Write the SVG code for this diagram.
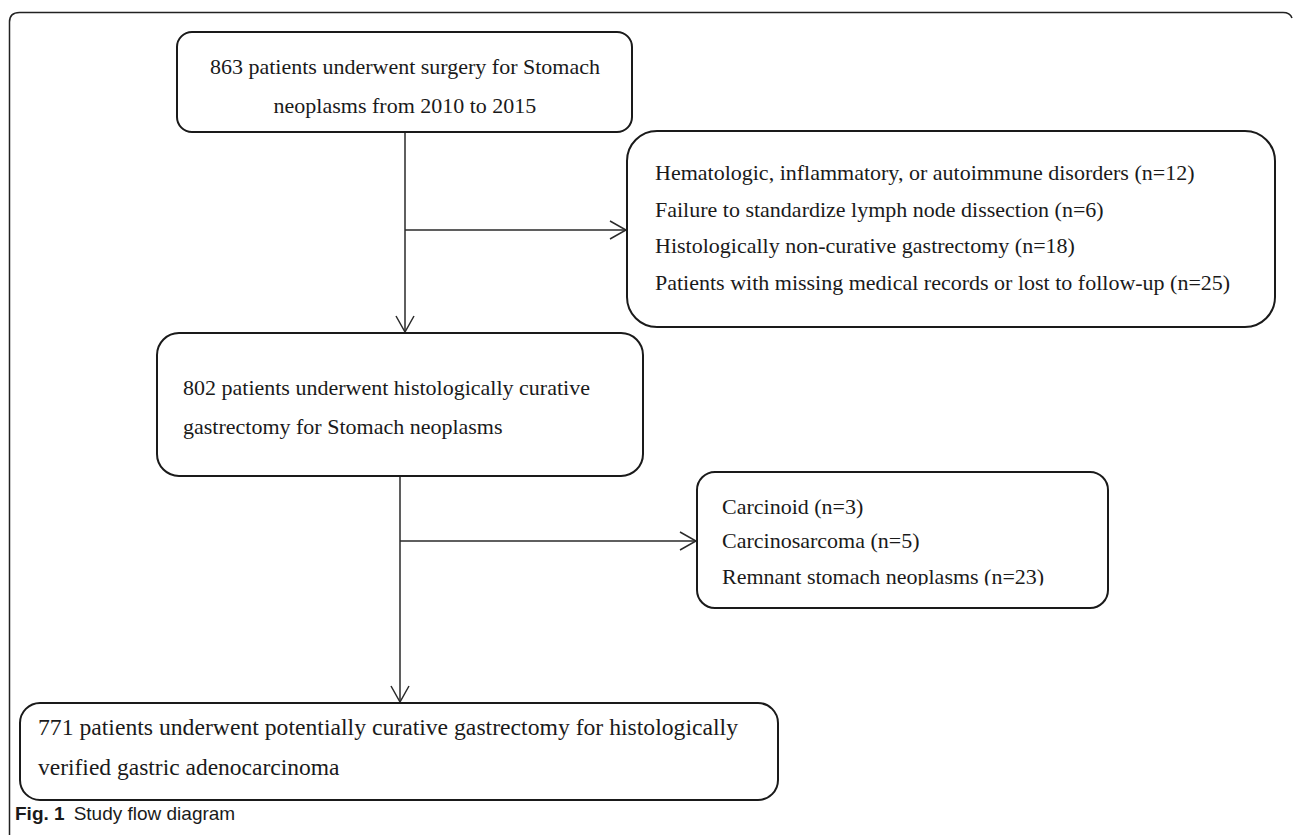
<svg xmlns="http://www.w3.org/2000/svg" width="1293" height="835" viewBox="0 0 1293 835">
  <style>
    .box { fill: #ffffff; stroke: #1a1a1a; stroke-width: 2; }
    .t { font-family: "Liberation Serif", "Times New Roman", serif; font-size: 22px; fill: #1a1a1a; }
    .te { font-family: "Liberation Serif", "Times New Roman", serif; font-size: 23.5px; fill: #1a1a1a; }
    .conn { fill: none; stroke: #2a2a2a; stroke-width: 1.5; }
    .cap { font-family: "Liberation Sans", Arial, sans-serif; font-size: 19px; fill: #1a1a1a; }
  </style>
  <defs>
    <marker id="arr" viewBox="0 0 20 20" refX="17" refY="10" markerWidth="20" markerHeight="20" markerUnits="userSpaceOnUse" orient="auto">
      <path d="M1,1 L17,10 L1,19" fill="none" stroke="#2a2a2a" stroke-width="1.5"/>
    </marker>
    <clipPath id="clipD">
      <rect x="690" y="470" width="420" height="115.5"/>
    </clipPath>
  </defs>
  <rect width="1293" height="835" fill="#ffffff"/>
  <g id="frame">
    <path d="M9.5,835 L9.5,22 Q9.5,12.5 19.5,12.5 L1283,12.5 Q1290,12.5 1292,18" fill="none" stroke="#222" stroke-width="1.5"/>
  </g>
  <g id="connectors">
    <path class="conn" d="M405,132 L405,332" marker-end="url(#arr)"/>
    <path class="conn" d="M405,230 L626,230" marker-end="url(#arr)"/>
    <path class="conn" d="M400,476 L400,702" marker-end="url(#arr)"/>
    <path class="conn" d="M400,541 L696,541" marker-end="url(#arr)"/>
  </g>
  <g id="node-863">
    <rect class="box" x="177" y="32" width="455" height="100" rx="15" ry="15"/>
    <text class="t" x="405" y="74" text-anchor="middle">863 patients underwent surgery for Stomach</text>
    <text class="t" x="405" y="113" text-anchor="middle">neoplasms from 2010 to 2015</text>
  </g>
  <g id="node-excl1">
    <rect class="box" x="627" y="131" width="648" height="196" rx="30" ry="30"/>
    <text class="t" x="655" y="180">Hematologic, inflammatory, or autoimmune disorders (n=12)</text>
    <text class="t" x="655" y="217">Failure to standardize lymph node dissection (n=6)</text>
    <text class="t" x="655" y="253">Histologically non-curative gastrectomy (n=18)</text>
    <text class="t" x="655" y="290">Patients with missing medical records or lost to follow-up (n=25)</text>
  </g>
  <g id="node-802">
    <rect class="box" x="157" y="333" width="486" height="143" rx="22" ry="22"/>
    <text class="t" x="183" y="395">802 patients underwent histologically curative</text>
    <text class="t" x="183" y="434">gastrectomy for Stomach neoplasms</text>
  </g>
  <g id="node-excl2">
    <rect class="box" x="697" y="472" width="411" height="136" rx="18" ry="18"/>
    <g clip-path="url(#clipD)">
      <text class="t" x="722" y="514">Carcinoid (n=3)</text>
      <text class="t" x="722" y="548">Carcinosarcoma (n=5)</text>
      <text class="t" x="722" y="584">Remnant stomach neoplasms (n=23)</text>
    </g>
  </g>
  <g id="node-771">
    <rect class="box" x="20" y="703" width="758" height="97" rx="20" ry="20"/>
    <text class="te" x="38" y="735" textLength="700" lengthAdjust="spacingAndGlyphs">771 patients underwent potentially curative gastrectomy for histologically</text>
    <text class="te" x="38" y="775">verified gastric adenocarcinoma</text>
  </g>
  <g id="caption">
    <text class="cap" x="15" y="820"><tspan font-weight="bold">Fig. 1</tspan><tspan dx="9">Study flow diagram</tspan></text>
  </g>
</svg>
